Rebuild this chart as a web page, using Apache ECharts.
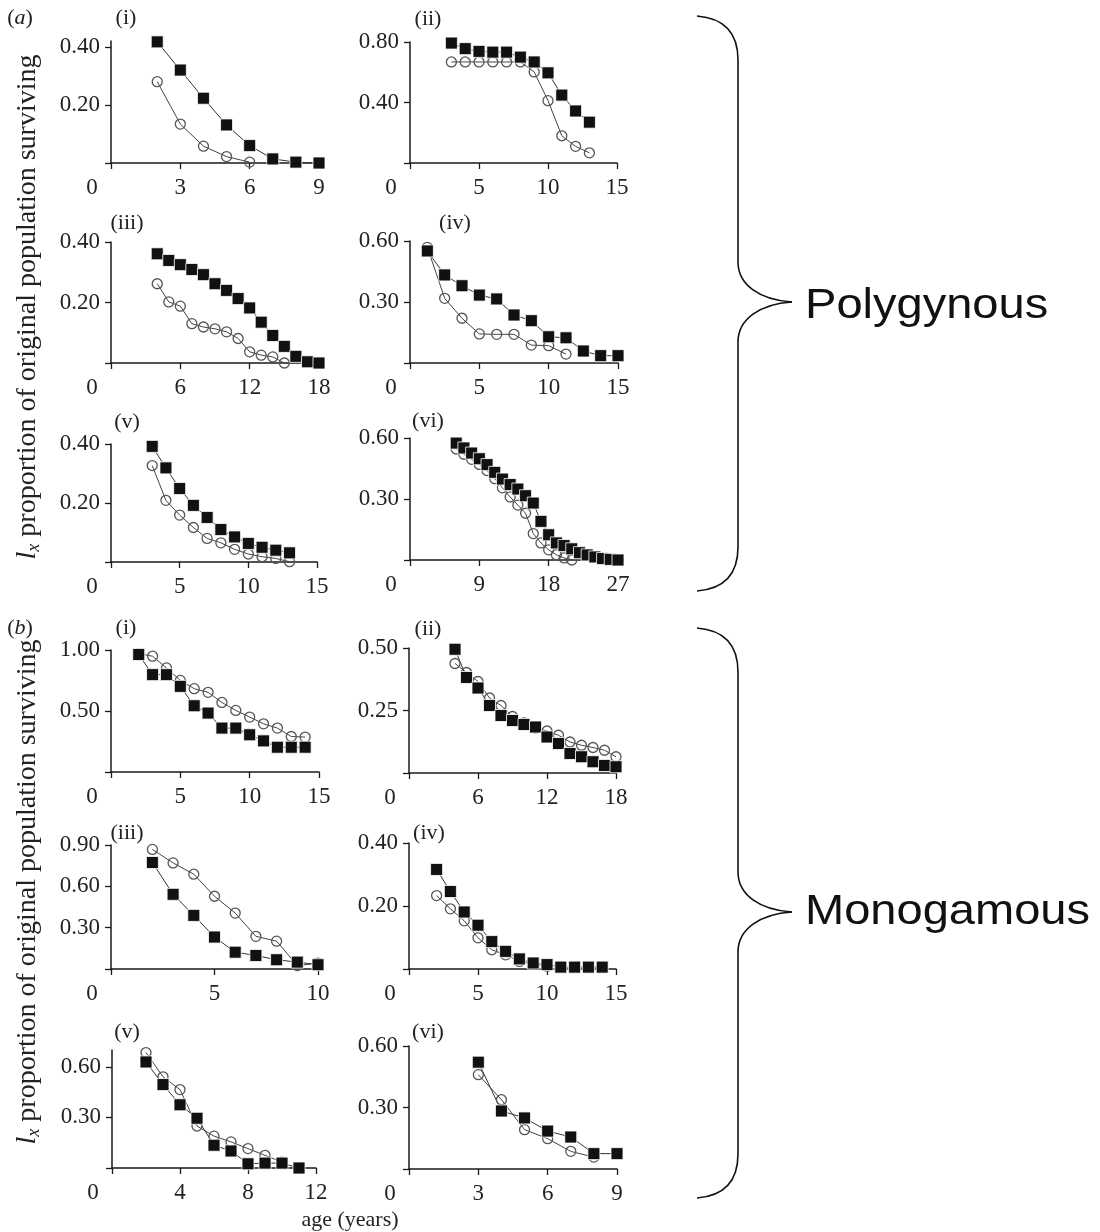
<!DOCTYPE html>
<html>
<head>
<meta charset="utf-8">
<title>Survivorship curves</title>
<script src="https://cdn.jsdelivr.net/npm/echarts@6/dist/echarts.min.js"></script>
<style>
  html, body { margin: 0; padding: 0; background: #fff; }
  #chart { width: 1100px; height: 1232px; }
</style>
</head>
<body>
<div id="chart"></div>
<script>
// ---- (a) polygynous: filled squares (sq) and open circles (ci) ----
var aI_sqAge = [2, 3, 4, 5, 6, 7, 8, 9];
var aI_sq = [0.417, 0.32, 0.223, 0.131, 0.06, 0.014, 0.003, 0.0];
var aI_ciAge = [2, 3, 4, 5, 6];
var aI_ci = [0.28, 0.134, 0.058, 0.022, 0.003];

var aII_sqAge = [3, 4, 5, 6, 7, 8, 9, 10, 11, 12, 13];
var aII_sq = [0.793, 0.756, 0.738, 0.733, 0.733, 0.70, 0.668, 0.596, 0.449, 0.344, 0.27];
var aII_ciAge = [3, 4, 5, 6, 7, 8, 9, 10, 11, 12, 13];
var aII_ci = [0.668, 0.668, 0.668, 0.668, 0.668, 0.668, 0.602, 0.412, 0.18, 0.11, 0.067];

var aIII_sqAge = [4, 5, 6, 7, 8, 9, 10, 11, 12, 13, 14, 15, 16, 17, 18];
var aIII_sq = [0.361, 0.339, 0.325, 0.309, 0.292, 0.262, 0.24, 0.213, 0.182, 0.135, 0.091, 0.055, 0.022, 0.004, 0.0];
var aIII_ciAge = [4, 5, 6, 7, 8, 9, 10, 11, 12, 13, 14, 15];
var aIII_ci = [0.262, 0.202, 0.188, 0.13, 0.119, 0.113, 0.103, 0.081, 0.037, 0.026, 0.02, 0.0];

var aIV_sqAge = [1.25, 2.5, 3.75, 5, 6.25, 7.5, 8.75, 10, 11.25, 12.5, 13.75, 15];
var aIV_sq = [0.551, 0.433, 0.38, 0.334, 0.315, 0.236, 0.208, 0.129, 0.124, 0.059, 0.036, 0.036];
var aIV_ciAge = [1.25, 2.5, 3.75, 5, 6.25, 7.5, 8.75, 10, 11.25];
var aIV_ci = [0.569, 0.318, 0.22, 0.143, 0.141, 0.141, 0.088, 0.085, 0.044];

var aV_sqAge = [3, 4, 5, 6, 7, 8, 9, 10, 11, 12, 13];
var aV_sq = [0.392, 0.319, 0.249, 0.192, 0.151, 0.11, 0.085, 0.063, 0.05, 0.04, 0.031];
var aV_ciAge = [3, 4, 5, 6, 7, 8, 9, 10, 11, 12, 13];
var aV_ci = [0.327, 0.209, 0.159, 0.117, 0.08, 0.065, 0.043, 0.027, 0.018, 0.012, 0.001];

var aVI_sqAge = [6, 7, 8, 9, 10, 11, 12, 13, 14, 15, 16, 17, 18, 19, 20, 21, 22, 23, 24, 25, 26, 27];
var aVI_sq = [0.575, 0.551, 0.526, 0.498, 0.469, 0.431, 0.398, 0.371, 0.349, 0.316, 0.28, 0.19, 0.124, 0.084, 0.071, 0.055, 0.036, 0.025, 0.015, 0.007, 0.003, 0.0];
var aVI_ciAge = [6, 7, 8, 9, 10, 11, 12, 13, 14, 15, 16, 17, 18, 19, 20, 21];
var aVI_ci = [0.546, 0.52, 0.495, 0.47, 0.44, 0.4, 0.355, 0.31, 0.27, 0.23, 0.13, 0.084, 0.05, 0.026, 0.01, 0.0];

// ---- (b) monogamous ----
var bI_sqAge = [2, 3, 4, 5, 6, 7, 8, 9, 10, 11, 12, 13, 14];
var bI_sq = [0.963, 0.798, 0.798, 0.702, 0.543, 0.483, 0.36, 0.36, 0.305, 0.255, 0.203, 0.203, 0.203];
var bI_ciAge = [2, 3, 4, 5, 6, 7, 8, 9, 10, 11, 12, 13, 14];
var bI_ci = [0.97, 0.949, 0.853, 0.751, 0.683, 0.653, 0.57, 0.505, 0.45, 0.395, 0.36, 0.291, 0.286];

var bII_sqAge = [4, 5, 6, 7, 8, 9, 10, 11, 12, 13, 14, 15, 16, 17, 18];
var bII_sq = [0.495, 0.382, 0.34, 0.27, 0.23, 0.21, 0.194, 0.184, 0.144, 0.118, 0.078, 0.065, 0.045, 0.03, 0.025];
var bII_ciAge = [4, 5, 6, 7, 8, 9, 10, 11, 12, 13, 14, 15, 16, 17, 18];
var bII_ci = [0.438, 0.402, 0.366, 0.3, 0.27, 0.226, 0.2, 0.18, 0.168, 0.151, 0.124, 0.111, 0.102, 0.091, 0.065];

var bIII_sqAge = [2, 3, 4, 5, 6, 7, 8, 9, 10];
var bIII_sq = [0.773, 0.542, 0.389, 0.232, 0.122, 0.098, 0.067, 0.05, 0.031];
var bIII_ciAge = [2, 3, 4, 5, 6, 7, 8, 9, 10];
var bIII_ci = [0.868, 0.77, 0.688, 0.528, 0.406, 0.237, 0.202, 0.025, 0.042];

var bIV_sqAge = [2, 3, 4, 5, 6, 7, 8, 9, 10, 11, 12, 13, 14];
var bIV_sq = [0.316, 0.246, 0.181, 0.139, 0.087, 0.056, 0.032, 0.019, 0.014, 0.006, 0.006, 0.006, 0.006];
var bIV_ciAge = [2, 3, 4, 5, 6, 7, 8, 9, 10];
var bIV_ci = [0.233, 0.191, 0.153, 0.099, 0.061, 0.045, 0.024, 0.017, 0.009];

var bV_sqAge = [2, 3, 4, 5, 6, 7, 8, 9, 10, 11];
var bV_sq = [0.629, 0.495, 0.375, 0.295, 0.135, 0.101, 0.025, 0.029, 0.029, 0.0];
var bV_ciAge = [2, 3, 4, 5, 6, 7, 8, 9, 10];
var bV_ci = [0.685, 0.541, 0.465, 0.249, 0.189, 0.155, 0.115, 0.075, 0.035];

var bVI_sqAge = [3, 4, 5, 6, 7, 8, 9];
var bVI_sq = [0.521, 0.283, 0.249, 0.185, 0.156, 0.075, 0.075];
var bVI_ciAge = [3, 4, 5, 6, 7, 8];
var bVI_ci = [0.46, 0.338, 0.192, 0.148, 0.086, 0.058];

// ---- tick labels ----
var aI_xTicks = [0, 3, 6, 9],    aI_yTicks = [0.2, 0.4];
var aII_xTicks = [0, 5, 10, 15], aII_yTicks = [0.4, 0.8];
var aIII_xTicks = [0, 6, 12, 18], aIII_yTicks = [0.2, 0.4];
var aIV_xTicks = [0, 5, 10, 15], aIV_yTicks = [0.3, 0.6];
var aV_xTicks = [0, 5, 10, 15],  aV_yTicks = [0.2, 0.4];
var aVI_xTicks = [0, 9, 18, 27], aVI_yTicks = [0.3, 0.6];
var bI_xTicks = [0, 5, 10, 15],  bI_yTicks = [0.5, 1.0];
var bII_xTicks = [0, 6, 12, 18], bII_yTicks = [0.25, 0.5];
var bIII_xTicks = [0, 5, 10],    bIII_yTicks = [0.3, 0.6, 0.9];
var bIV_xTicks = [0, 5, 10, 15], bIV_yTicks = [0.2, 0.4];
var bV_xTicks = [0, 4, 8, 12],   bV_yTicks = [0.3, 0.6];
var bVI_xTicks = [0, 3, 6, 9],   bVI_yTicks = [0.3, 0.6];

var SERIF = '"Liberation Serif", "Times New Roman", serif';
var SANS = '"Liberation Sans", Arial, sans-serif';
var INK = '#1a1a1a';
var TICK_FONT = 23;

function pts(xs, ys) {
  return xs.map(function (x, i) { return [x, ys[i]]; });
}

// box = [left, top, width, height] of each plot area
var panels = [
  { box: [111, 41, 208, 122], xMax: 9, yMax: 0.42, xt: aI_xTicks, yt: aI_yTicks, tag: '(i)', tagAt: [126, 18], sq: pts(aI_sqAge, aI_sq), ci: pts(aI_ciAge, aI_ci) },
  { box: [410, 42, 207, 121], xMax: 15, yMax: 0.8, xt: aII_xTicks, yt: aII_yTicks, tag: '(ii)', tagAt: [428, 19], sq: pts(aII_sqAge, aII_sq), ci: pts(aII_ciAge, aII_ci) },
  { box: [111, 242, 208, 121], xMax: 18, yMax: 0.4, xt: aIII_xTicks, yt: aIII_yTicks, tag: '(iii)', tagAt: [127, 223], sq: pts(aIII_sqAge, aIII_sq), ci: pts(aIII_ciAge, aIII_ci) },
  { box: [410, 241, 208, 122], xMax: 15, yMax: 0.6, xt: aIV_xTicks, yt: aIV_yTicks, tag: '(iv)', tagAt: [455, 223], sq: pts(aIV_sqAge, aIV_sq), ci: pts(aIV_ciAge, aIV_ci) },
  { box: [111, 444, 206, 118], xMax: 15, yMax: 0.4, xt: aV_xTicks, yt: aV_yTicks, tag: '(v)', tagAt: [127, 422], sq: pts(aV_sqAge, aV_sq), ci: pts(aV_ciAge, aV_ci) },
  { box: [410, 438, 208, 122], xMax: 27, yMax: 0.6, xt: aVI_xTicks, yt: aVI_yTicks, tag: '(vi)', tagAt: [428, 421], sq: pts(aVI_sqAge, aVI_sq), ci: pts(aVI_ciAge, aVI_ci) },
  { box: [111, 650, 208, 122], xMax: 15, yMax: 1.0, xt: bI_xTicks, yt: bI_yTicks, tag: '(i)', tagAt: [126, 628], sq: pts(bI_sqAge, bI_sq), ci: pts(bI_ciAge, bI_ci) },
  { box: [409, 648, 207, 125], xMax: 18, yMax: 0.5, xt: bII_xTicks, yt: bII_yTicks, tag: '(ii)', tagAt: [428, 629], sq: pts(bII_sqAge, bII_sq), ci: pts(bII_ciAge, bII_ci) },
  { box: [111, 845, 207, 124], xMax: 10, yMax: 0.9, xt: bIII_xTicks, yt: bIII_yTicks, tag: '(iii)', tagAt: [127, 833], sq: pts(bIII_sqAge, bIII_sq), ci: pts(bIII_ciAge, bIII_ci) },
  { box: [409, 843, 207, 126], xMax: 15, yMax: 0.4, xt: bIV_xTicks, yt: bIV_yTicks, tag: '(iv)', tagAt: [429, 833], sq: pts(bIV_sqAge, bIV_sq), ci: pts(bIV_ciAge, bIV_ci) },
  { box: [112, 1050, 204, 118], xMax: 12, yMax: 0.7, xt: bV_xTicks, yt: bV_yTicks, tag: '(v)', tagAt: [127, 1032], sq: pts(bV_sqAge, bV_sq), ci: pts(bV_ciAge, bV_ci) },
  { box: [409, 1046, 208, 123], xMax: 9, yMax: 0.6, xt: bVI_xTicks, yt: bVI_yTicks, tag: '(vi)', tagAt: [428, 1032], sq: pts(bVI_sqAge, bVI_sq), ci: pts(bVI_ciAge, bVI_ci) }
];

var grids = [], xAxes = [], yAxes = [], series = [], graphics = [];

panels.forEach(function (p, i) {
  grids.push({ left: p.box[0], top: p.box[1], width: p.box[2], height: p.box[3], outerBoundsMode: 'none' });
  xAxes.push({
    type: 'value', gridIndex: i, min: 0, max: p.xMax,
    splitLine: { show: false },
    axisLine: { show: true, onZero: false, lineStyle: { color: INK, width: 1.5 } },
    axisTick: { show: true, customValues: p.xt, length: 6, lineStyle: { color: INK, width: 1.3 } },
    axisLabel: {
      customValues: p.xt, margin: 13,
      fontFamily: SERIF, fontSize: TICK_FONT, color: '#222',
      formatter: function (v) { return v === 0 ? '{z|0}' : String(v); },
      rich: { z: { fontFamily: SERIF, fontSize: TICK_FONT, color: '#222', padding: [0, 38, 0, 0] } }
    }
  });
  yAxes.push({
    type: 'value', gridIndex: i, min: 0, max: p.yMax,
    splitLine: { show: false },
    axisLine: { show: true, onZero: false, lineStyle: { color: INK, width: 1.5 } },
    axisTick: { show: true, customValues: [0].concat(p.yt), length: 6, lineStyle: { color: INK, width: 1.3 } },
    axisLabel: {
      customValues: p.yt, margin: 11,
      fontFamily: SERIF, fontSize: TICK_FONT, color: '#222',
      formatter: function (v) { return v.toFixed(2); }
    }
  });
  series.push({
    type: 'line', xAxisIndex: i, yAxisIndex: i, data: p.ci, clip: false,
    symbol: 'circle', symbolSize: 10,
    lineStyle: { color: '#444', width: 1 },
    itemStyle: { color: 'rgba(255,255,255,0)', borderColor: '#555', borderWidth: 1.3 },
    emphasis: { disabled: true }, animation: false
  });
  series.push({
    type: 'line', xAxisIndex: i, yAxisIndex: i, data: p.sq, clip: false,
    symbol: 'rect', symbolSize: 12,
    lineStyle: { color: '#333', width: 1 },
    itemStyle: { color: '#111', borderColor: '#fff', borderWidth: 0.8 },
    emphasis: { disabled: true }, animation: false
  });
  graphics.push({
    type: 'text', x: p.tagAt[0], y: p.tagAt[1],
    style: { text: p.tag, font: '22px ' + SERIF, fill: '#222', align: 'center', verticalAlign: 'middle', textAlign: 'center', textVerticalAlign: 'middle' }
  });
});

// section letters, axis titles, braces and group names
function sectionLetter(letter, y) {
  return {
    type: 'text', x: 20, y: y,
    style: {
      text: '({it|' + letter + '})', fontFamily: SERIF, fontSize: 22, fill: '#222',
      align: 'center', verticalAlign: 'middle', textAlign: 'center', textVerticalAlign: 'middle',
      rich: { it: { fontFamily: SERIF, fontSize: 22, fontStyle: 'italic', fill: '#222' } }
    }
  };
}
function yTitle(y) {
  return {
    type: 'text', x: 28, y: y, rotation: Math.PI / 2,
    style: {
      text: '{l|l}{s|x} proportion of original population surviving',
      fontFamily: SERIF, fontSize: 28, fill: '#222', lineHeight: 30,
      align: 'center', verticalAlign: 'middle', textAlign: 'center', textVerticalAlign: 'middle',
      rich: {
        l: { fontFamily: SERIF, fontSize: 28, fontStyle: 'italic', fill: '#222', lineHeight: 30 },
        s: { fontFamily: SERIF, fontSize: 18, fontStyle: 'italic', fill: '#222', lineHeight: 18, verticalAlign: 'bottom' }
      }
    }
  };
}
// curly brace built from two straight runs and four cubic curves
function brace(top, tip, bottom) {
  var st = { stroke: '#111', lineWidth: 1.6, fill: 'none' };
  function curve(x1, y1, c1x, c1y, c2x, c2y, x2, y2) {
    return { type: 'bezierCurve', shape: { x1: x1, y1: y1, cpx1: c1x, cpy1: c1y, cpx2: c2x, cpy2: c2y, x2: x2, y2: y2 }, style: st };
  }
  function line(x1, y1, x2, y2) {
    return { type: 'line', shape: { x1: x1, y1: y1, x2: x2, y2: y2 }, style: st };
  }
  return [
    curve(697, top, 722, top + 2, 738, top + 14, 738, top + 44),
    line(738, top + 44, 738, tip - 40),
    curve(738, tip - 40, 738, tip - 17, 760, tip - 2, 792, tip),
    curve(792, tip, 760, tip + 2, 738, tip + 17, 738, tip + 40),
    line(738, tip + 40, 738, bottom - 44),
    curve(738, bottom - 44, 738, bottom - 14, 722, bottom - 2, 697, bottom)
  ];
}
function groupName(text, y) {
  return {
    type: 'text', x: 805, y: y, scaleX: 1.12,
    style: { text: text, font: '42px ' + SANS, fill: '#111', align: 'left', verticalAlign: 'middle', textAlign: 'left', textVerticalAlign: 'middle' }
  };
}

graphics.push(sectionLetter('a', 18));
graphics.push(sectionLetter('b', 628));
graphics.push(yTitle(307));
graphics.push(yTitle(892));
graphics = graphics.concat(brace(16, 302, 591));
graphics = graphics.concat(brace(628, 912, 1198));
graphics.push(groupName('Polygynous', 306));
graphics.push(groupName('Monogamous', 912));
graphics.push({
  type: 'text', x: 350, y: 1220,
  style: { text: 'age (years)', font: '22px ' + SERIF, fill: '#222', align: 'center', verticalAlign: 'middle', textAlign: 'center', textVerticalAlign: 'middle' }
});

var myChart = echarts.init(document.getElementById('chart'));
var option = {
  animation: false,
  backgroundColor: '#fff',
  grid: grids,
  xAxis: xAxes,
  yAxis: yAxes,
  series: series,
  graphic: graphics
};
myChart.setOption(option);
</script>
</body>
</html>
